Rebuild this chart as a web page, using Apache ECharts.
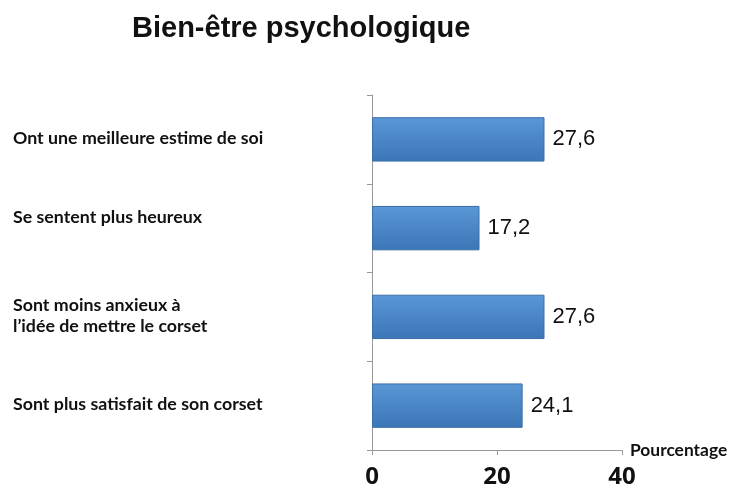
<!DOCTYPE html>
<html>
<head>
<meta charset="utf-8">
<script src="https://cdn.jsdelivr.net/npm/echarts@6/dist/echarts.min.js"></script>
<style>
  html, body { margin: 0; padding: 0; background: #fff; }
  #chart { width: 731px; height: 490px; }
</style>
</head>
<body>
<div id="chart"></div>
<script>
const categories = [
  'Ont une meilleure estime de soi',
  'Se sentent plus heureux',
  'Sont moins anxieux à\nl\u2019idée de mettre le corset',
  'Sont plus satisfait de son corset'
]
const percentages = [27.6, 17.2, 27.6, 24.1]
const xTicks = [0, 20, 40]

const catStyle = {
  fontFamily: 'Lato',
  fontSize: 17.8,
  fontWeight: 'bold',
  lineHeight: 21,
  color: '#111'
}

const chart = echarts.init(document.getElementById('chart'))
chart.setOption({
  animation: false,
  title: {
    text: 'Bien-être psychologique',
    left: 127,
    top: 9,
    textStyle: {
      fontFamily: 'Liberation Sans',
      fontSize: 29,
      fontWeight: 'bold',
      color: '#111'
    }
  },
  grid: {
    left: 372,
    top: 95,
    right: 109,
    bottom: 40,
    containLabel: false
  },
  xAxis: {
    type: 'value',
    min: xTicks[0],
    max: xTicks[xTicks.length - 1],
    interval: 20,
    name: 'Pourcentage',
    nameLocation: 'end',
    nameGap: 8,
    nameTextStyle: {
      fontFamily: 'Lato',
      fontSize: 17.4,
      fontWeight: 'bold',
      color: '#111',
      verticalAlign: 'middle',
      padding: [0, 0, 4, 0]
    },
    axisLine: { show: true, lineStyle: { color: '#999' } },
    axisTick: { show: true, length: 5, lineStyle: { color: '#999' } },
    splitLine: { show: false },
    axisLabel: {
      margin: 15,
      fontFamily: 'Open Sans',
      fontSize: 24,
      fontWeight: 'bold',
      color: '#111'
    }
  },
  yAxis: {
    type: 'category',
    data: categories,
    inverse: true,
    axisLine: { show: true, lineStyle: { color: '#999' } },
    axisTick: { show: true, length: 5, lineStyle: { color: '#999' } },
    axisLabel: Object.assign({
      align: 'left',
      margin: 359,
      formatter: (v, i) => (i === 1 ? '{up|' + v + '}' : '{n|' + v.replace('\n', '}\n{n|') + '}'),
      rich: {
        n: Object.assign({ padding: [0, 0, 2, 0] }, catStyle),
        up: Object.assign({ padding: [0, 0, 22, 0] }, catStyle)
      }
    }, catStyle)
  },
  series: [
    {
      type: 'bar',
      data: percentages,
      barCategoryGap: '50%',
      itemStyle: {
        color: new echarts.graphic.LinearGradient(0, 0, 0, 1, [
          { offset: 0, color: '#5a97d6' },
          { offset: 1, color: '#3b76b6' }
        ]),
        borderColor: '#3a6ea8',
        borderWidth: 1
      },
      label: {
        show: true,
        position: 'right',
        distance: 8,
        fontFamily: 'Liberation Sans',
        fontSize: 22,
        color: '#111',
        formatter: p => p.value.toFixed(1).replace('.', ',')
      }
    }
  ]
})
</script>
</body>
</html>
